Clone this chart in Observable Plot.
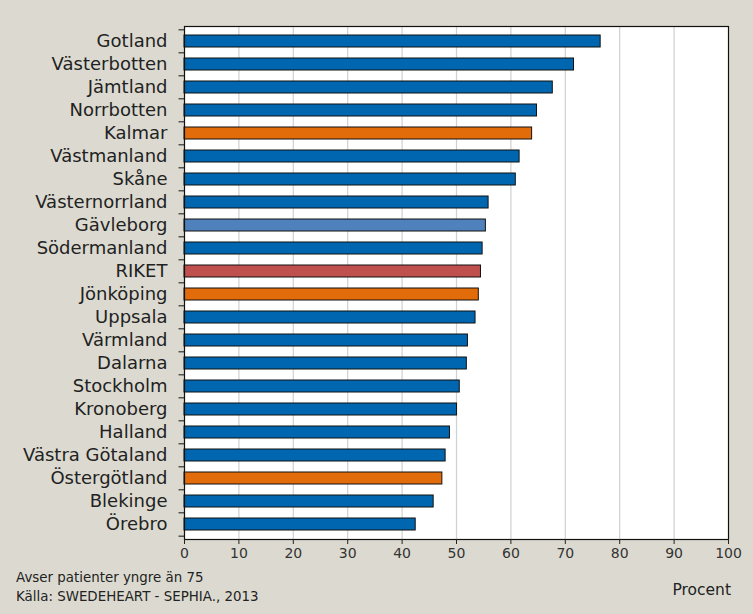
<!DOCTYPE html>
<html>
<head>
<meta charset="utf-8">
<script src="https://cdn.jsdelivr.net/npm/d3@7"></script>
<script src="https://cdn.jsdelivr.net/npm/@observablehq/plot@0.6"></script>
<style>
  html, body { margin: 0; padding: 0; background: #DCDAD0; }
  #wrap { position: relative; width: 753px; height: 614px; overflow: hidden; }
  #chart svg { display: block; }
  #caption { position: absolute; left: 16px; top: 568px; font-family: "DejaVu Sans", sans-serif; font-size: 13.4px; line-height: 19px; color: #222; }
  #unit { position: absolute; right: 22px; top: 580px; font-family: "DejaVu Sans", sans-serif; font-size: 15.5px; line-height: 20px; color: #222; }
</style>
</head>
<body>
<div id="wrap">
  <div id="chart"></div>
  <div id="caption">Avser patienter yngre än 75<br>Källa: SWEDEHEART - SEPHIA., 2013</div>
  <div id="unit">Procent</div>
</div>
<script>
const regions = ["Gotland","Västerbotten","Jämtland","Norrbotten","Kalmar","Västmanland","Skåne","Västernorrland","Gävleborg","Södermanland","RIKET","Jönköping","Uppsala","Värmland","Dalarna","Stockholm","Kronoberg","Halland","Västra Götaland","Östergötland","Blekinge","Örebro"];
const values = [76.5,71.6,67.7,64.8,63.9,61.6,60.9,55.9,55.4,54.8,54.5,54.1,53.5,52.1,51.9,50.6,50.1,48.8,48.0,47.4,45.8,42.5];
const groups = ["län","län","län","län","highlight","län","län","län","gavle","län","riket","highlight","län","län","län","län","län","län","län","highlight","län","län"];
const xTicks = [0,10,20,30,40,50,60,70,80,90,100];
const gridTicks = [10,20,30,40,50,60,70,80,90];

const data = regions.map((r, i) => ({region: r, value: values[i], group: groups[i]}));
const colors = {"län": "#0066B0", "highlight": "#E36C0A", "gavle": "#4F81BD", "riket": "#C0504D"};

const W = 753, H = 614, mt = 26, mb = 75, ml = 184, mr = 25;
const step = (H - mt - mb) / regions.length;
const boundaries = regions.map((r, i) => ({region: r, dy: -step / 2}))
  .concat([{region: regions[regions.length - 1], dy: step / 2}]);

const chart = Plot.plot({
  width: W, height: H,
  marginTop: mt, marginBottom: mb, marginLeft: ml, marginRight: mr,
  style: {background: "transparent", fontFamily: "DejaVu Sans, sans-serif", color: "#222"},
  x: {domain: [0, 100], ticks: xTicks, label: null},
  y: {domain: regions, paddingInner: 0.47, paddingOuter: 0.235, label: null},
  marks: [
    Plot.frame({fill: "white", stroke: "none"}),
    Plot.ruleX(gridTicks, {stroke: "#D0D0D0", strokeWidth: 1.2}),
    Plot.barX(data, {y: "region", x: "value", fill: d => colors[d.group], stroke: "#111", strokeWidth: 1}),
    Plot.frame({stroke: "#111", strokeWidth: 1.2}),
    Plot.axisY({tickSize: 0, tickPadding: 17, fontSize: 18, fill: "#222", label: null}),
    ...boundaries.map(b => Plot.ruleY([b], {y: "region", x1: -1, x2: 0, dy: b.dy, stroke: "#111", clip: false})),
    Plot.axisX({ticks: xTicks, tickSize: 5, tickPadding: 4, fontSize: 14, fill: "#333", label: null}),
  ]
});
document.getElementById("chart").appendChild(chart);
</script>
</body>
</html>
